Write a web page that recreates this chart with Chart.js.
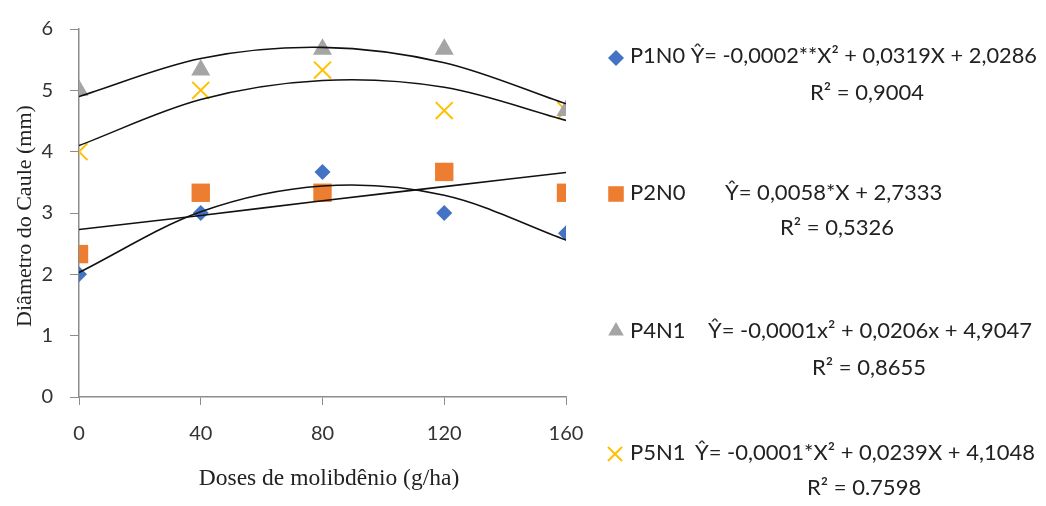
<!DOCTYPE html>
<html>
<head>
<meta charset="utf-8">
<script src="https://cdn.jsdelivr.net/npm/chart.js@4/dist/chart.umd.min.js"></script>
<style>
body { margin: 0; background: #fff; }
</style>
</head>
<body>
<canvas id="myChart" width="1046" height="506"></canvas>
<script>
// doses (g/ha) and measured stem diameter (mm)
var doses = [0, 40, 80, 120, 160];
var p1n0 = [2.0, 3.0, 3.67, 3.0, 2.67];
var p2n0 = [2.33, 3.33, 3.33, 3.67, 3.33];
var p4n1 = [5.0, 5.33, 5.67, 5.67, 4.67];
var p5n1 = [4.0, 5.0, 5.33, 4.67, 4.67];

// trend line heights at each dose
var p1n0Trend = [2.03, 3.02, 3.44, 3.29, 2.56];
var p2n0Trend = [2.73, 2.96, 3.20, 3.43, 3.66];
var p4n1Trend = [4.90, 5.52, 5.70, 5.45, 4.78];
var p5n1Trend = [4.10, 4.85, 5.16, 5.05, 4.51];

var yTicks = [0, 1, 2, 3, 4, 5, 6];
var xTicks = [0, 40, 80, 120, 160];

var names = ["P1N0", "P2N0", "P4N1", "P5N1"];
var equations = [
    "\u0176= -0,0002**X\u00B2 + 0,0319X + 2,0286",
    "\u0176= 0,0058*X + 2,7333",
    "\u0176= -0,0001x\u00B2 + 0,0206x + 4,9047",
    "\u0176= -0,0001*X\u00B2 + 0,0239X + 4,1048"
];
var r2Labels = ["R\u00B2 = 0,9004", "R\u00B2 = 0,5326", "R\u00B2 = 0,8655", "R\u00B2 = 0.7598"];
var colors = ["#4472C4", "#ED7D31", "#A5A5A5", "#FFC000"];

function pts(ys) {
    return doses.map(function (d, i) { return { x: d, y: ys[i] }; });
}

function markerSet(label, ys, color, style, radius) {
    return {
        label: label,
        data: pts(ys),
        pointStyle: style,
        pointRadius: radius,
        pointHoverRadius: radius,
        backgroundColor: color,
        borderColor: color,
        borderWidth: style == "crossRot" ? 2 : 0,
        showLine: false,
        order: 1
    };
}

function trendSet(ys) {
    return {
        label: "trend",
        data: pts(ys),
        showLine: true,
        pointRadius: 0,
        borderColor: "#111111",
        borderWidth: 1.6,
        tension: 0.33,
        order: 0
    };
}

// legend layout; row 1 writes name and equation as one line
var legendRows = [
    { mark: [616, 58], style: "rectRot", r: 8, nameY: 63, eq: null, eqW: 407, r2: 810, r2Y: 100 },
    { mark: [616, 194], style: "rect", r: 11, nameY: 200, eq: 725, eqW: 220, r2: 780, r2Y: 235 },
    { mark: [616, 331], style: "triangle", r: 9, nameY: 338, eq: 708, eqW: 325, r2: 812, r2Y: 375 },
    { mark: [615, 454], style: "crossRot", r: 10, nameY: 460, eq: 695, eqW: 342, r2: 807, r2Y: 495 }
];

var sideText = {
    id: "sideText",
    afterDraw: function (chart) {
        var ctx = chart.ctx;
        ctx.save();
        ctx.fillStyle = "#222222";
        ctx.font = "23.5px 'Liberation Serif'";
        ctx.textAlign = "center";
        ctx.textBaseline = "alphabetic";
        ctx.fillText("Doses de molibdênio (g/ha)", 329, 485);
        ctx.save();
        ctx.translate(31, 216);
        ctx.rotate(-Math.PI / 2);
        ctx.font = "22px 'Liberation Serif'";
        ctx.fillText("Diâmetro do Caule (mm)", 0, 0);
        ctx.restore();

        ctx.textAlign = "left";
        ctx.font = "22px Lato";
        for (var i = 0; i < legendRows.length; i++) {
            var row = legendRows[i];
            ctx.fillStyle = colors[i];
            ctx.strokeStyle = colors[i];
            ctx.lineWidth = 2;
            Chart.helpers.drawPoint(ctx, { pointStyle: row.style, radius: row.r, rotation: 0, borderWidth: row.style == "crossRot" ? 2 : 0 }, row.mark[0], row.mark[1]);
            ctx.fillStyle = "#222222";
            if (row.eq === null) {
                ctx.fillText(names[i] + " " + equations[i], 630, row.nameY, row.eqW);
            } else {
                ctx.fillText(names[i], 630, row.nameY);
                ctx.fillText(equations[i], row.eq, row.nameY, row.eqW);
            }
            ctx.fillText(r2Labels[i], row.r2, row.r2Y);
        }
        ctx.restore();
    }
};

var chart = new Chart("myChart", {
    type: "scatter",
    data: {
        datasets: [
            markerSet("P1N0", p1n0, colors[0], "rectRot", 8),
            markerSet("P2N0", p2n0, colors[1], "rect", 13),
            markerSet("P4N1", p4n1, colors[2], "triangle", 11),
            markerSet("P5N1", p5n1, colors[3], "crossRot", 12),
            trendSet(p1n0Trend),
            trendSet(p2n0Trend),
            trendSet(p4n1Trend),
            trendSet(p5n1Trend)
        ]
    },
    options: {
        responsive: false,
        animation: false,
        layout: { padding: { left: 0, top: 25, right: 480, bottom: 0 } },
        plugins: { legend: { display: false }, tooltip: { enabled: false } },
        scales: {
            x: {
                type: "linear",
                min: 0,
                max: 160,
                afterBuildTicks: function (axis) { axis.ticks = xTicks.map(function (v) { return { value: v }; }); },
                afterFit: function (axis) { axis.height = 109; },
                grid: { drawOnChartArea: false, color: "#8c8c8c", tickLength: 8 },
                border: { color: "#8c8c8c", width: 1.5 },
                ticks: { color: "#333333", font: { family: "Lato", size: 20 }, padding: 17 }
            },
            y: {
                min: 0,
                max: 6,
                afterBuildTicks: function (axis) { axis.ticks = yTicks.map(function (v) { return { value: v }; }); },
                afterFit: function (axis) { axis.width = 79; },
                grid: { drawOnChartArea: false, color: "#8c8c8c", tickLength: 9 },
                border: { color: "#8c8c8c", width: 1.5 },
                ticks: { color: "#333333", font: { family: "Lato", size: 20 }, padding: 17 }
            }
        }
    },
    plugins: [sideText]
});
</script>
</body>
</html>
